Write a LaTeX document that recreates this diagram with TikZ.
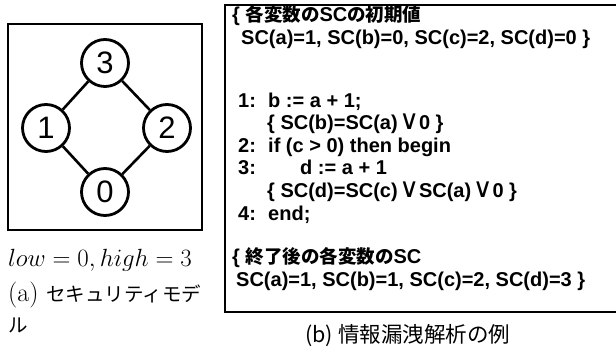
\documentclass[tikz,border=0pt]{standalone}
\usepackage{fontspec}
\newfontfamily\codefont{Liberation Sans}[BoldFont={Liberation Sans Bold}]
\newfontfamily\jpbold{Noto Sans CJK JP Bold}
\newfontfamily\jpfont{Noto Sans CJK JP}
\newfontfamily\symfont{DejaVu Sans}
\newfontfamily\digitfont{Liberation Sans}
\newcommand{\orv}{\hspace{1.5pt}{\symfont\mdseries\fontsize{27}{27}\selectfont ∨}}
\newcommand{\jb}[1]{{\jpbold\fontsize{18.5}{18.5}\selectfont #1}}
\begin{document}
\begin{tikzpicture}[x=1pt,y=-1pt,
  lvl/.style={circle,draw,line width=2.8pt,minimum size=47pt,inner sep=0pt,font=\digitfont\fontsize{31}{31}\selectfont},
  edge/.style={line width=2.6pt},
  frame/.style={line width=1.3pt},
  code/.style={anchor=base west,inner sep=0pt,font=\codefont\bfseries\fontsize{20}{20}\selectfont},
  captext/.style={anchor=base west,inner sep=0pt,font=\fontsize{26}{26}\selectfont}]
\useasboundingbox (0,0) rectangle (616,352);
\fill[white] (0,0) rectangle (616,352);
% (a) security model
\draw[frame] (8,24) rectangle (202,230);
\node[lvl] (n3) at (105,63) {3};
\node[lvl] (n1) at (46,128) {1};
\node[lvl] (n2) at (167,128) {2};
\node[lvl] (n0) at (105,192) {0};
\draw[edge] (n3) -- (n1);
\draw[edge] (n3) -- (n2);
\draw[edge] (n1) -- (n0);
\draw[edge] (n2) -- (n0);
\node[captext] (lh) at (8,267) {$low=0, high=3$};
\node[captext] (ca1) at (8,302) {(a) {\jpfont\fontsize{19.5}{19.5}\selectfont セキュリティモデ}};
\node[captext] (ca2) at (8,333) {\jpfont\fontsize{19.5}{19.5}\selectfont ル};
% (b) example
\draw[frame] (617,5) -- (225,5) -- (225,312) -- (617,312);
\node[code] (t1) at (232,22) {\{ \jb{各変数の}SC\jb{の初期値}};
\node[code] (t2) at (241,45) {SC(a)=1, SC(b)=0, SC(c)=2, SC(d)=0 \}};
\node[code] (t3) at (238,108) {1:};
\node[code] (t3b) at (268,108) {b := a + 1;};
\node[code] (t4) at (267,130) {\{ SC(b)=SC(a)\orv0 \}};
\node[code] (t5) at (238,153) {2:};
\node[code] (t5b) at (268,153) {if (c > 0) then begin};
\node[code] (t6) at (238,175) {3:};
\node[code] (t6b) at (300,175) {d := a + 1};
\node[code] (t7) at (267,198) {\{ SC(d)=SC(c)\orv SC(a)\orv0 \}};
\node[code] (t8) at (238,221) {4:};
\node[code] (t8b) at (268,221) {end;};
\node[code] (t9) at (232,264) {\{ \jb{終了後の各変数の}SC};
\node[code] (t10) at (236,287) {SC(a)=1, SC(b)=1, SC(c)=2, SC(d)=3 \}};
\node[anchor=base west,inner sep=0pt,font=\jpfont\fontsize{21.5}{21.5}\selectfont] (cb) at (305,343) {(b)\hspace{5pt}情報漏洩解析の例};
\end{tikzpicture}
\end{document}
